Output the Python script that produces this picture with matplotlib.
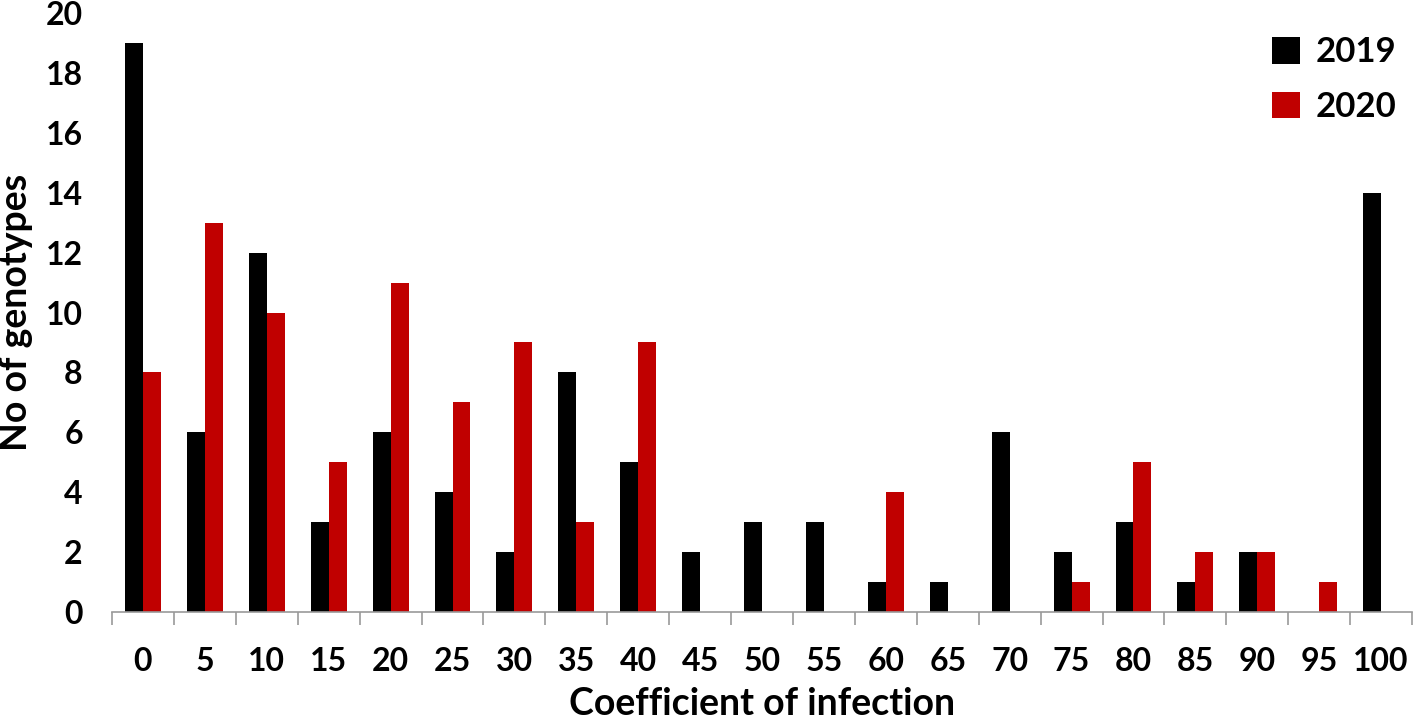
import numpy as np
import matplotlib.pyplot as plt
from matplotlib.ticker import FixedLocator

# data
categories = ['0', '5', '10', '15', '20', '25', '30', '35', '40', '45', '50',
              '55', '60', '65', '70', '75', '80', '85', '90', '95', '100']
y2019 = [19, 6, 12, 3, 6, 4, 2, 8, 5, 2, 3, 3, 1, 1, 6, 2, 3, 1, 2, 0, 14]
y2020 = [8, 13, 10, 5, 11, 7, 9, 3, 9, 0, 0, 0, 4, 0, 0, 1, 5, 2, 2, 1, 0]

plt.rcParams['font.family'] = ['Lato', 'DejaVu Sans']
plt.rcParams['font.weight'] = 'bold'

fig = plt.figure(figsize=(14.18, 7.23), dpi=100)
ax = fig.add_axes([0.079, 0.1535, 0.9168, 0.8285])

x = np.arange(len(categories))
w = 0.29
ax.bar(x - w/2, y2019, w, color='black', label='2019')
ax.bar(x + w/2, y2020, w, color='#c00000', label='2020')

ax.set_xlim(-0.5, len(categories) - 0.5)
ax.set_ylim(0, 20)
ax.set_yticks(np.arange(0, 21, 2))
ax.set_xticks(x)
ax.set_xticklabels(categories)
ax.xaxis.set_minor_locator(FixedLocator(np.arange(-0.5, len(categories), 1)))
ax.tick_params(axis='x', which='major', length=0, pad=25, labelsize=23)
ax.tick_params(axis='x', which='minor', length=9.5, width=1.2, color='#999999')
ax.tick_params(axis='y', length=0, pad=21, labelsize=23)

for s in ['top', 'right', 'left']:
    ax.spines[s].set_visible(False)
ax.spines['bottom'].set_color('#999999')
ax.spines['bottom'].set_linewidth(1.2)

ax.set_xlabel('Coefficient of infection', fontsize=27, fontweight='bold', labelpad=8)
ax.set_ylabel('No of genotypes', fontsize=27, fontweight='bold')
ax.yaxis.set_label_coords(-0.061, 0.5)

ax.legend(loc='upper right', bbox_to_anchor=(1.012, 1.013), frameon=False,
          fontsize=25, handlelength=0.8, handleheight=0.8, handletextpad=0.45,
          labelspacing=0.65)

fig.savefig('out.png', dpi=100)
